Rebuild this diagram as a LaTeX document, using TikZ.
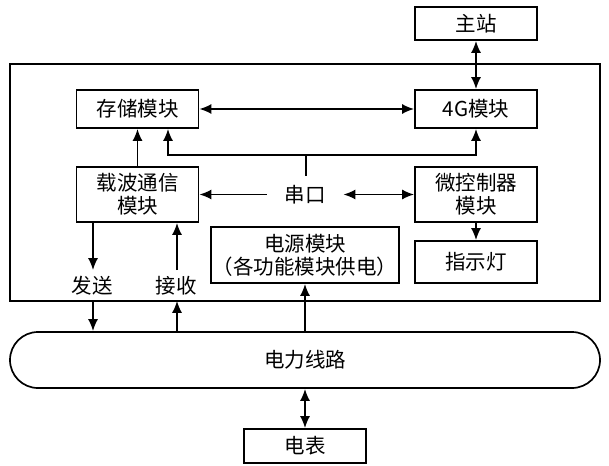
\documentclass[tikz,border=0pt]{standalone}
\usepackage{fontspec}
\setmainfont{Noto Sans CJK SC}
\usetikzlibrary{arrows.meta}

\begin{document}
\begin{tikzpicture}[x=1pt,y=-1pt,line width=1.7pt,
  box/.style={draw,align=center,minimum width=122pt,inner sep=0pt},
  arr/.style={-{Latex[length=12pt,width=10pt]}},
  darr/.style={{Latex[length=12pt,width=10pt]}-{Latex[length=12pt,width=10pt]}},
  font=\fontsize{20.5}{23}\selectfont]
\useasboundingbox (0,0) rectangle (609,465);
% terminal frame
\draw (10,64) rectangle (600,301);
\node[box,minimum height=33pt] (zhan) at (476,23.5) {主站};
\node[box,minimum height=38pt] (cunchu) at (137.5,109) {存储模块};
\node[box,minimum height=38pt] (g4) at (476,109) {4G模块};
\node[box,minimum height=55pt] (zaibo) at (137.5,194.5) {载波通信\\模块};
\node[box,minimum height=55pt] (wkz) at (476,194.5) {微控制器\\模块};
\node[box,minimum width=188pt,minimum height=56pt] (dianyuan) at (305,255) {电源模块\\（各功能模块供电）};
\node[box,minimum height=42pt] (zsd) at (476,262) {指示灯};
\node[inner xsep=17pt,inner ysep=8pt] (ck) at (305,194.5) {串口};
\node[inner xsep=2pt,inner ysep=5pt] (fs) at (92,285.5) {发送};
\node[inner xsep=2pt,inner ysep=5pt] (js) at (176,285.5) {接收};
\node[draw,minimum width=590pt,minimum height=56pt,rounded corners=28pt] (dlxl) at (305,360) {电力线路};
\node[box,minimum height=34pt] (db) at (305,446) {电表};
\coordinate (bus) at (306,155);

\draw[darr] (zhan) -- (g4);
\draw[darr] (cunchu) -- (g4);
\draw[arr] (zaibo) -- (cunchu);
\draw (bus) -- (ck.north -| bus);
\draw[arr] (bus) -| ([xshift=30.5pt]cunchu.south);
\draw[arr] (bus) -| (g4.south);
\draw[arr] (ck) -- (zaibo);
\draw[darr] (ck) -- (wkz);
\draw[arr] (wkz) -- (zsd);
\draw[arr] ([xshift=-44.5pt]zaibo.south) -- (fs.north -| 93,0);
\draw[arr] (fs.south -| 93,0) -- (dlxl.north -| 93,0);
\draw[arr] (dlxl.north -| 177,0) -- (js.south -| 177,0);
\draw[arr] (js.north -| 177,0) -- (zaibo.south -| 177,0);
\draw[arr] (dlxl.north -| dianyuan) -- (dianyuan.south);
\draw[darr] (dlxl) -- (db);
\end{tikzpicture}
\end{document}
